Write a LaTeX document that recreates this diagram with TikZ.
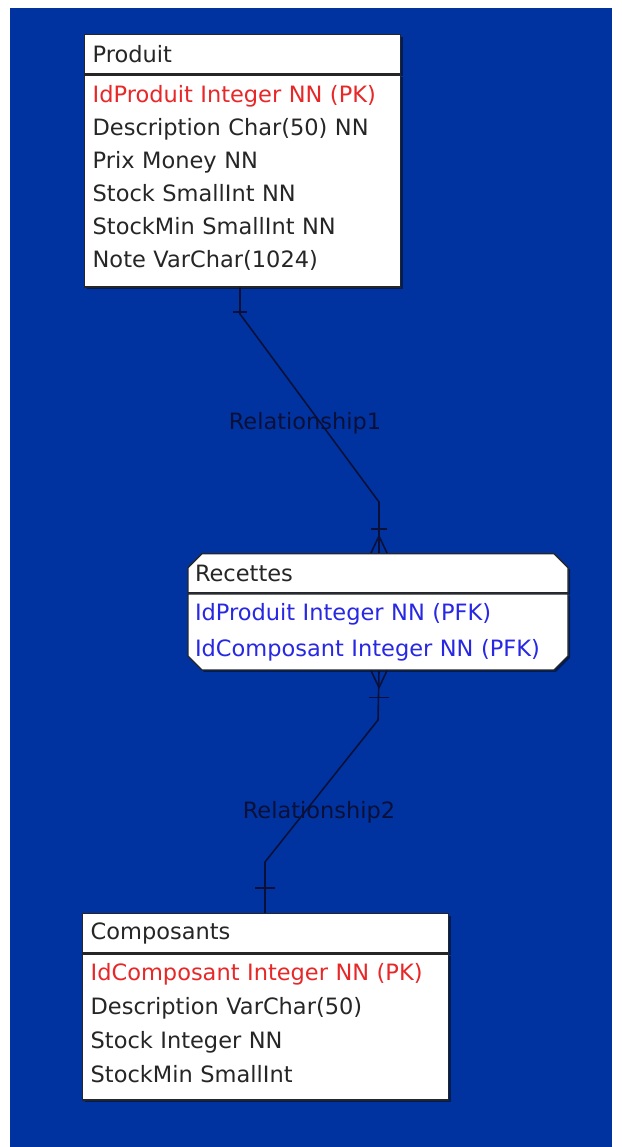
\documentclass[tikz,border=0pt]{standalone}
\usepackage{fontspec}
\setmainfont{DejaVu Sans}
\usepackage{tikz}
\usetikzlibrary{positioning,shapes.misc,shadows}

\definecolor{fond}{RGB}{0,51,160}
\definecolor{pkrouge}{RGB}{232,40,40}
\definecolor{fkbleu}{RGB}{40,40,228}
\definecolor{lien}{RGB}{12,16,56}

\begin{document}
\begin{tikzpicture}[
		x=1pt, y=-1pt,
		font=\fontsize{22.5}{33}\selectfont,
		entity/.style={draw=black!85, line width=1.3pt, fill=white, text=black!85,
				align=left, inner xsep=8pt, inner ysep=0pt,
				drop shadow={shadow xshift=2pt, shadow yshift=-2pt, fill=black, opacity=0.45}},
		entityhead/.style={entity, minimum height=39pt, anchor=north west},
		entitybody/.style={entity, below=0pt of #1},
		coupe/.style={chamfered rectangle, chamfered rectangle xsep=7pt, chamfered rectangle ysep=7pt, inner xsep=0pt},
		rel/.style={draw=lien, line width=1.6pt},
		rellabel/.style={text=lien}
	]
	\useasboundingbox (0,0) rectangle (621,1147);
	\fill[white] (0,0) rectangle (621,1147);
	\fill[fond] (10,8) rectangle (612,1147);

	% tables
	\node[entityhead, text width=300pt] (produit) at (84,34) {Produit};
	\node[entitybody=produit, text width=300pt, minimum height=212pt] (produitattr) {
		\textcolor{pkrouge}{IdProduit Integer NN (PK)}\\
		Description Char(50) NN\\
		Prix Money NN\\
		Stock SmallInt NN\\
		StockMin SmallInt NN\\
		Note VarChar(1024)\rule[-9pt]{0pt}{1pt}};

	\node[entityhead, coupe, anchor=north, chamfered rectangle corners={north west,north east}, text width=366pt] (recettes) at (378,553) {Recettes};
	\node[entitybody=recettes, coupe, chamfered rectangle corners={south west,south east}, text width=366pt, minimum height=76pt,
		font=\fontsize{22.5}{36}\selectfont, text=fkbleu] (recettesattr) {
		IdProduit Integer NN (PFK)\\
		IdComposant Integer NN (PFK)};

	\node[entityhead, text width=350pt] (composants) at (82,913) {Composants};
	\node[entitybody=composants, text width=350pt, minimum height=146pt,
		font=\fontsize{22.5}{34}\selectfont] (composantsattr) {
		\textcolor{pkrouge}{IdComposant Integer NN (PK)}\\
		Description VarChar(50)\\
		Stock Integer NN\\
		StockMin SmallInt\rule[-8pt]{0pt}{1pt}};

	% Relationship1
	\coordinate (r1haut) at (240,314);
	\coordinate (r1bas) at (379,502);
	\coordinate (r1pied) at (recettes.north -| r1bas);
	\draw[rel] (produitattr.south -| r1haut) -- (r1haut) -- (r1bas) -- (r1pied);
	\draw[rel] (r1haut) ++(-7,-2) -- ++(14,0);
	\draw[rel] (r1pied) ++(-8,-24) -- ++(16,0);
	\draw[rel] (r1pied) ++(-8,0) -- ++(8,-17) -- ++(8,17);
	\node[rellabel] (rel1) at (305,423) {Relationship1};

	% Relationship2
	\coordinate (r2pied) at (recettesattr.south -| r1bas);
	\coordinate (r2haut) at (378,720);
	\coordinate (r2bas) at (265,862);
	\draw[rel] (r2pied) -- (r2haut) -- (r2bas) -- (composants.north -| r2bas);
	\draw[rel] (r2pied) ++(-8,0) -- ++(8,17) -- ++(8,-17);
	\draw[rel] (r2pied) ++(-10,27) -- ++(20,0);
	\draw[rel] (r2bas) ++(-10,26) -- ++(20,0);
	\node[rellabel] (rel2) at (319,812) {Relationship2};
\end{tikzpicture}
\end{document}
